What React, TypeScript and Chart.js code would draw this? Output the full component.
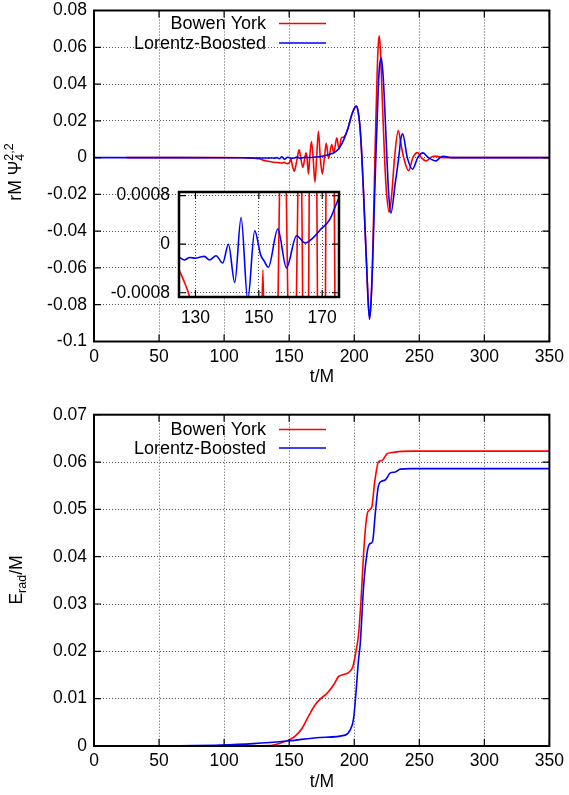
import React, { useEffect, useRef } from 'react';
import { Chart, registerables } from 'chart.js';

Chart.register(...registerables);

const FONT = '"Liberation Sans", Arial, Helvetica, sans-serif';
const FS = 17.5;
const LEGEND_FS = 18;
const RED = '#ff0000';
const BLUE = '#0000ff';
const GRID = '#555555';

const SERIES_NAMES = ['Bowen York', 'Lorentz-Boosted'];

// ---- Top panel: rM Psi4^{2,2} vs t/M ----
const BY_PSI_T = [25, 100, 115, 120, 122.5, 124.7, 126.3, 128.3, 130.3, 134, 138, 141, 144.4, 146.3, 148.4, 150.4, 151.3, 152.2, 154, 155.2, 156.3, 157.6, 158.9, 160.5, 162.1, 162.9, 163.7, 164.8, 165.8, 167.1, 168.4, 169.8, 171.1, 172.5, 173.9, 175.5, 177.1, 178.5, 180.3, 182.7, 184.3, 186.6, 188.3, 190.2, 192, 195, 198.3, 201.5, 203, 204.5, 205.9, 207.2, 208.4, 209.6, 210.7, 211.8, 212.8, 213.9, 214.6, 215.3, 215.9, 216.6, 217.4, 218.2, 219.2, 220.2, 221.1, 222.2, 223.3, 224.7, 226.9, 228.8, 231, 233.8, 236, 238, 241.8, 245.1, 248.7, 251.5, 255.4, 258.5, 262.3, 268, 350];
const BY_PSI_V = [0, 0, -0.00005, -0.00015, -0.00028, -0.00042, -0.0006, -0.0009, -0.0015, -0.002, -0.0025, -0.0027, -0.003, -0.0026, -0.0033, -0.0025, -0.00042, -0.0035, -0.0074, -0.004, 0, 0.0042, 0, -0.0053, 0, 0.0026, 0, -0.0089, 0, 0.0088, 0, -0.0134, 0, 0.0143, 0, -0.0089, 0, 0.0078, -0.0004, 0.0071, 0.0026, 0.0108, 0.0047, 0.0108, 0.0112, 0.0155, 0.0237, 0.028, 0.025, 0.016, 0, -0.02, -0.04, -0.06, -0.078, -0.087, -0.08, -0.06, -0.04, -0.02, 0, 0.02, 0.04, 0.058, 0.0663, 0.058, 0.04, 0.02, 0, -0.018, -0.0297, -0.02, 0, 0.0147, 0.007, 0, -0.0071, 0, 0.0027, 0, -0.0018, 0, 0.0008, 0, 0];

const LB_PSI_T = [0, 60, 100, 115, 120, 124.7, 126.5, 128.2, 130, 131.6, 132.8, 134.4, 136.5, 138.6, 140.4, 142.4, 144.4, 146.5, 148.7, 150.6, 151.6, 153, 156, 158.7, 161.9, 164.6, 167, 169.6, 172.3, 174.5, 177, 180, 183, 186, 189, 192, 195, 198.3, 201.5, 203, 204.5, 205.9, 207.2, 208.4, 209.6, 210.7, 211.8, 212.8, 214, 214.9, 215.7, 216.6, 217.6, 218.6, 219.5, 220.8, 221.8, 222.6, 223.9, 225.1, 226.5, 228.2, 231.5, 234.2, 235.8, 237.2, 240.8, 244.8, 248.8, 252.8, 257, 262.8, 266, 268.7, 275, 350];
const LB_PSI_V = [0, 0, -0.00005, -0.0001, -0.00016, -0.00021, -0.00026, -0.00022, -0.00023, -0.00021, -0.0002, -0.00026, -0.00019, -0.00031, 0, -0.00063, 0.00044, -0.00092, 0.00022, -0.00018, -0.00027, -0.00038, 0.00025, -0.00039, 0.00014, 0.00002, 0.0001, 0.00025, 0.0004, 0.00067, 0.001, 0.0015, 0.0022, 0.0034, 0.0058, 0.0098, 0.0155, 0.0237, 0.028, 0.025, 0.016, 0, -0.02, -0.04, -0.06, -0.078, -0.088, -0.08, -0.06, -0.04, -0.02, 0, 0.02, 0.04, 0.05, 0.0542, 0.048, 0.04, 0.02, 0, -0.02, -0.0301, -0.014, 0, 0.01, 0.0129, 0, -0.0063, 0, 0.0026, 0, -0.0018, 0, 0.0007, 0, 0];

// ---- Bottom panel: E_rad/M vs t/M ----
const BY_E_T = [25, 100, 135, 143, 150, 154.6, 159.8, 164.9, 170, 173.8, 179, 184.1, 188, 191.8, 195.6, 199, 201.5, 203.3, 205.2, 207.7, 209.8, 211.8, 213.6, 215.6, 218.7, 221.3, 225.1, 229, 234.1, 245.6, 350];
const BY_E_V = [0, 0, 0.0001, 0.0006, 0.0013, 0.0021, 0.0037, 0.0063, 0.0087, 0.0099, 0.0111, 0.0129, 0.0147, 0.0151, 0.0155, 0.0168, 0.0203, 0.0235, 0.0308, 0.0428, 0.0488, 0.0499, 0.0506, 0.0555, 0.0601, 0.0603, 0.0617, 0.062, 0.0622, 0.0623, 0.0623];

const LB_E_T = [0, 50, 97, 122.6, 150, 173.8, 193, 196.9, 199.5, 201.5, 203.3, 204.6, 207.2, 209.8, 211.8, 214.1, 216.2, 218.7, 221.3, 223.8, 227.7, 231.5, 235.4, 243.1, 350];
const LB_E_V = [0, 0.00003, 0.0002, 0.0005, 0.0011, 0.0018, 0.0023, 0.0034, 0.0058, 0.0118, 0.0182, 0.0215, 0.0337, 0.0407, 0.0427, 0.0432, 0.0492, 0.0551, 0.056, 0.0562, 0.0577, 0.0579, 0.0585, 0.0586, 0.0586];

// ---- ticks ----
const X_TICKS = [0, 50, 100, 150, 200, 250, 300, 350];
const TOP_Y_TICKS = [-0.1, -0.08, -0.06, -0.04, -0.02, 0, 0.02, 0.04, 0.06, 0.08];
const TOP_Y_LABELS = ['-0.1', '-0.08', '-0.06', '-0.04', '-0.02', '0', '0.02', '0.04', '0.06', '0.08'];
const BOT_Y_TICKS = [0, 0.01, 0.02, 0.03, 0.04, 0.05, 0.06, 0.07];
const BOT_Y_LABELS = ['0', '0.01', '0.02', '0.03', '0.04', '0.05', '0.06', '0.07'];
const INSET_X_TICKS = [130, 150, 170];
const INSET_Y_TICKS = [-0.0008, 0, 0.0008];
const INSET_Y_LABELS = ['-0.0008', '0', '0.0008'];

const zip = (t: number[], v: number[]) => t.map((x, i) => ({ x, y: v[i] }));

type Seg = { t: string; size: number; shift: number; noAdvance?: boolean };

function drawRich(ctx: CanvasRenderingContext2D, x: number, y: number, segs: Seg[], rotate: boolean) {
  ctx.save();
  ctx.translate(x, y);
  if (rotate) ctx.rotate(-Math.PI / 2);
  ctx.fillStyle = '#000';
  ctx.textBaseline = 'alphabetic';
  ctx.textAlign = 'left';
  let total = 0;
  let pendingMax = 0;
  const widths = segs.map((s) => {
    ctx.font = `${s.size}px ${FONT}`;
    return ctx.measureText(s.t).width;
  });
  segs.forEach((s, i) => {
    if (s.noAdvance) { pendingMax = Math.max(pendingMax, widths[i]); }
    else { total += Math.max(pendingMax, widths[i]); pendingMax = 0; }
  });
  let cx = -total / 2;
  pendingMax = 0;
  segs.forEach((s, i) => {
    ctx.font = `${s.size}px ${FONT}`;
    ctx.fillText(s.t, cx, -s.shift);
    if (s.noAdvance) { pendingMax = Math.max(pendingMax, widths[i]); }
    else { cx += Math.max(pendingMax, widths[i]); pendingMax = 0; }
  });
  ctx.restore();
}

const gpPlugin = {
  id: 'gp',
  beforeDraw(chart: any, _a: any, opts: any) {
    if (opts && opts.fill) {
      const a = chart.chartArea;
      const ctx = chart.ctx;
      ctx.save();
      ctx.fillStyle = '#fff';
      ctx.fillRect(a.left, a.top, a.right - a.left, a.bottom - a.top);
      ctx.restore();
    }
  },
  afterDraw(chart: any, _a: any, opts: any) {
    if (!opts || !opts.enabled) return;
    const ctx: CanvasRenderingContext2D = chart.ctx;
    const a = chart.chartArea;
    const xs = chart.scales.x;
    const ys = chart.scales.y;
    const tl = opts.tickLen;
    ctx.save();
    ctx.strokeStyle = '#000';
    ctx.lineWidth = 1.2;
    ctx.beginPath();
    xs.ticks.forEach((t: any) => {
      const p = xs.getPixelForValue(t.value);
      ctx.moveTo(p, a.bottom); ctx.lineTo(p, a.bottom - tl);
      ctx.moveTo(p, a.top); ctx.lineTo(p, a.top + tl);
    });
    ys.ticks.forEach((t: any) => {
      const p = ys.getPixelForValue(t.value);
      ctx.moveTo(a.left, p); ctx.lineTo(a.left + tl, p);
      ctx.moveTo(a.right, p); ctx.lineTo(a.right - tl, p);
    });
    ctx.stroke();
    ctx.lineWidth = opts.frameWidth;
    ctx.strokeRect(a.left, a.top, a.right - a.left, a.bottom - a.top);

    if (opts.legend) {
      const L = opts.legend;
      chart.data.datasets.forEach((ds: any, i: number) => {
        const y = L.y[i];
        ctx.font = `${LEGEND_FS}px ${FONT}`;
        ctx.fillStyle = '#000';
        ctx.textAlign = 'right';
        ctx.textBaseline = 'middle';
        ctx.fillText(SERIES_NAMES[i], L.textRight, y + 1);
        ctx.strokeStyle = ds.borderColor;
        ctx.lineWidth = 1.6;
        ctx.beginPath();
        ctx.moveTo(L.x0, y); ctx.lineTo(L.x1, y);
        ctx.stroke();
      });
    }
    if (opts.titles) {
      opts.titles.forEach((tt: any) => drawRich(ctx, tt.x, tt.y, tt.segs, tt.rotate));
    }
    ctx.restore();
  },
};

function lineDs(label: string, data: any[], color: string, order: number) {
  return {
    label,
    data,
    borderColor: color,
    backgroundColor: color,
    borderWidth: 1.6,
    pointRadius: 0,
    cubicInterpolationMode: 'monotone',
    fill: false,
    order,
  };
}

function tickFont() {
  return { family: FONT, size: FS };
}

function makeScales(o: {
  xmin: number; xmax: number; xticks: number[]; xlabels: string[]; xh: number; xpad: number;
  ymin: number; ymax: number; yticks: number[]; ylabels: string[]; yw: number; ypad: number;
}) {
  return {
    x: {
      type: 'linear',
      min: o.xmin,
      max: o.xmax,
      afterBuildTicks: (s: any) => { s.ticks = o.xticks.map((v) => ({ value: v })); },
      afterFit: (s: any) => { s.height = o.xh; },
      grid: { color: GRID, lineWidth: 1, drawTicks: false },
      border: { display: false, dash: [1, 2] },
      ticks: { color: '#000', font: tickFont(), padding: o.xpad, maxRotation: 0, autoSkip: false, callback: (_v: any, i: number) => o.xlabels[i] },
    },
    y: {
      type: 'linear',
      min: o.ymin,
      max: o.ymax,
      afterBuildTicks: (s: any) => { s.ticks = o.yticks.map((v) => ({ value: v })); },
      afterFit: (s: any) => { s.width = o.yw; },
      grid: { color: GRID, lineWidth: 1, drawTicks: false },
      border: { display: false, dash: [1, 2] },
      ticks: { color: '#000', font: tickFont(), padding: o.ypad, autoSkip: false, callback: (_v: any, i: number) => o.ylabels[i] },
    },
  };
}

// canvas placements (page pixels)
const TOP_CANVAS_Y = -7;
const INSET_CANVAS_X = 100;
const INSET_CANVAS_Y = 172;
const BOT_CANVAS_Y = 395;

export default function App() {
  const topRef = useRef<HTMLCanvasElement>(null);
  const botRef = useRef<HTMLCanvasElement>(null);
  const insRef = useRef<HTMLCanvasElement>(null);

  useEffect(() => {
    const xLabels = X_TICKS.map(String);
    const dy = -TOP_CANVAS_Y;
    const top = new Chart(topRef.current!, {
      type: 'line',
      data: {
        datasets: [
          lineDs(SERIES_NAMES[0], zip(BY_PSI_T, BY_PSI_V), RED, 1),
          lineDs(SERIES_NAMES[1], zip(LB_PSI_T, LB_PSI_V), BLUE, 0),
        ] as any,
      },
      options: {
        animation: false,
        responsive: false,
        events: [],
        layout: { autoPadding: false, padding: { left: 0, right: 19, top: 10.5 + dy, bottom: 0 } },
        plugins: {
          legend: { display: false },
          tooltip: { enabled: false },
          gp: {
            enabled: true, tickLen: 7, frameWidth: 2,
            legend: { y: [23.5 + dy, 43 + dy], textRight: 266, x0: 279, x1: 326 },
            titles: [
              { x: 322, y: 382 + dy, rotate: false, segs: [{ t: 't/M', size: FS, shift: 0 }] },
              {
                x: 21, y: 172 + dy, rotate: true, segs: [
                  { t: 'rM \u03A8', size: FS, shift: 0 },
                  { t: '4', size: 12.5, shift: -3, noAdvance: true },
                  { t: '2,2', size: 12.5, shift: 8 },
                ],
              },
            ],
          },
        } as any,
        scales: makeScales({
          xmin: 0, xmax: 350, xticks: X_TICKS, xlabels: xLabels, xh: 53.5, xpad: 5,
          ymin: -0.1, ymax: 0.08, yticks: TOP_Y_TICKS, ylabels: TOP_Y_LABELS, yw: 94, ypad: 7,
        }) as any,
      },
      plugins: [gpPlugin],
    });

    const inset = new Chart(insRef.current!, {
      type: 'line',
      data: {
        datasets: [
          lineDs(SERIES_NAMES[0], zip(BY_PSI_T, BY_PSI_V), RED, 1),
          lineDs(SERIES_NAMES[1], zip(LB_PSI_T, LB_PSI_V), BLUE, 0),
        ] as any,
      },
      options: {
        animation: false,
        responsive: false,
        events: [],
        layout: { autoPadding: false, padding: { left: 0, right: 12, top: 20, bottom: 0 } },
        plugins: {
          legend: { display: false },
          tooltip: { enabled: false },
          gp: { enabled: true, fill: true, tickLen: 7, frameWidth: 2.5 },
        } as any,
        scales: makeScales({
          xmin: 124.8, xmax: 175.3, xticks: INSET_X_TICKS, xlabels: INSET_X_TICKS.map(String), xh: 33, xpad: 11,
          ymin: -0.00087, ymax: 0.00086, yticks: INSET_Y_TICKS, ylabels: INSET_Y_LABELS, yw: 79, ypad: 9,
        }) as any,
      },
      plugins: [gpPlugin],
    });

    const bot = new Chart(botRef.current!, {
      type: 'line',
      data: {
        datasets: [
          lineDs(SERIES_NAMES[0], zip(BY_E_T, BY_E_V), RED, 1),
          lineDs(SERIES_NAMES[1], zip(LB_E_T, LB_E_V), BLUE, 0),
        ] as any,
      },
      options: {
        animation: false,
        responsive: false,
        events: [],
        layout: { autoPadding: false, padding: { left: 0, right: 19, top: 19.7, bottom: 0 } },
        plugins: {
          legend: { display: false },
          tooltip: { enabled: false },
          gp: {
            enabled: true, tickLen: 7, frameWidth: 2,
            legend: { y: [34.5, 53], textRight: 266, x0: 279, x1: 326 },
            titles: [
              { x: 322, y: 392, rotate: false, segs: [{ t: 't/M', size: FS, shift: 0 }] },
              {
                x: 22, y: 185, rotate: true, segs: [
                  { t: 'E', size: FS, shift: 0 },
                  { t: 'rad', size: 12.5, shift: -4 },
                  { t: '/M', size: FS, shift: 0 },
                ],
              },
            ],
          },
        } as any,
        scales: makeScales({
          xmin: 0, xmax: 350, xticks: X_TICKS, xlabels: xLabels, xh: 49, xpad: 5,
          ymin: 0, ymax: 0.07, yticks: BOT_Y_TICKS, ylabels: BOT_Y_LABELS, yw: 94, ypad: 7,
        }) as any,
      },
      plugins: [gpPlugin],
    });

    return () => { top.destroy(); inset.destroy(); bot.destroy(); };
  }, []);

  return (
    <div style={{ position: 'absolute', left: 0, top: 0, width: 569, height: 795, background: '#fff', overflow: 'hidden' }}>
      <canvas ref={topRef} width={569} height={402} style={{ position: 'absolute', left: 0, top: TOP_CANVAS_Y }} />
      <canvas ref={insRef} width={251} height={158} style={{ position: 'absolute', left: INSET_CANVAS_X, top: INSET_CANVAS_Y }} />
      <canvas ref={botRef} width={569} height={400} style={{ position: 'absolute', left: 0, top: BOT_CANVAS_Y }} />
    </div>
  );
}
